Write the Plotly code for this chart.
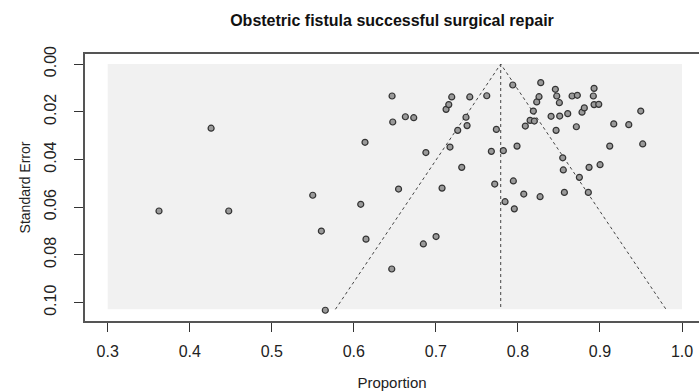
import plotly.graph_objects as go

# Study estimates
proportion = [0.3625, 0.426, 0.4475, 0.5499, 0.5604, 0.5652, 0.6084, 0.6136, 0.6148, 0.6462,
              0.6466, 0.6474, 0.6545, 0.6628, 0.673, 0.6847, 0.6878, 0.7002, 0.7075, 0.7124,
              0.7157, 0.7172, 0.7193, 0.7266, 0.7315, 0.7367, 0.738, 0.7413, 0.762, 0.7676,
              0.7717, 0.7737, 0.7822, 0.7843, 0.7937, 0.7944, 0.7956, 0.7989, 0.8071, 0.809,
              0.8148, 0.82, 0.8188, 0.8229, 0.8257, 0.8278, 0.827, 0.8404, 0.8456, 0.8465,
              0.8473, 0.8505, 0.8509, 0.8546, 0.8553, 0.8566, 0.8607, 0.866, 0.8712, 0.8724,
              0.8749, 0.8781, 0.8809, 0.8858, 0.8867, 0.8919, 0.8928, 0.8928, 0.8985, 0.9001,
              0.9119, 0.9168, 0.9351, 0.9497, 0.9521]
std_error = [0.0616, 0.0269, 0.0616, 0.055, 0.070, 0.1032, 0.0588, 0.0328, 0.0734, 0.0859,
             0.0134, 0.0243, 0.0524, 0.0221, 0.0225, 0.0754, 0.0371, 0.0723, 0.052, 0.019,
             0.017, 0.0348, 0.0138, 0.0278, 0.0433, 0.0223, 0.0258, 0.0138, 0.0133, 0.0366,
             0.0503, 0.0274, 0.0363, 0.0577, 0.0088, 0.049, 0.0607, 0.0344, 0.0545, 0.026,
             0.0236, 0.0239, 0.0197, 0.0159, 0.0137, 0.0078, 0.0556, 0.0219, 0.0106, 0.0278,
             0.0134, 0.0162, 0.0218, 0.0393, 0.0444, 0.0538, 0.0208, 0.0134, 0.0263, 0.0131,
             0.0475, 0.0202, 0.0184, 0.0538, 0.0433, 0.0134, 0.0102, 0.017, 0.0169, 0.0422,
             0.0344, 0.0251, 0.0254, 0.0197, 0.0335]

pooled = 0.779
se_max = 0.1028
z = 1.96
x_ticks = [0.3, 0.4, 0.5, 0.6, 0.7, 0.8, 0.9, 1.0]
x_tick_labels = ["0.3", "0.4", "0.5", "0.6", "0.7", "0.8", "0.9", "1.0"]
y_ticks = [0.00, 0.02, 0.04, 0.06, 0.08, 0.10]
y_tick_labels = ["0.00", "0.02", "0.04", "0.06", "0.08", "0.10"]

FONT = "Liberation Sans, Arial, sans-serif"
fig = go.Figure()

# background region
fig.add_shape(type="rect", xref="x", yref="y", x0=0.3, x1=1.0, y0=0, y1=se_max,
              fillcolor="#f1f1f1", line=dict(width=0), layer="below")

# funnel lines
fig.add_trace(go.Scatter(x=[pooled - z * se_max, pooled, pooled + z * se_max],
                         y=[se_max, 0, se_max], mode="lines",
                         line=dict(color="#444444", width=1, dash="dot"),
                         hoverinfo="skip", showlegend=False))
fig.add_trace(go.Scatter(x=[pooled, pooled], y=[0, se_max], mode="lines",
                         line=dict(color="#444444", width=1, dash="dot"),
                         hoverinfo="skip", showlegend=False))

# studies
fig.add_trace(go.Scatter(x=proportion, y=std_error, mode="markers",
                         marker=dict(size=6, color="#9a9a9a",
                                     line=dict(color="#333333", width=1.2)),
                         showlegend=False))

fig.update_layout(
    width=699, height=391,
    margin=dict(l=85, r=0, t=54, b=70),
    paper_bgcolor="white", plot_bgcolor="white",
    font=dict(family=FONT, size=15, color="#222222"),
    title=dict(text="<b>Obstetric fistula successful surgical repair</b>",
               font=dict(family=FONT, size=16, color="#111111"),
               x=0.5, xref="paper", xanchor="center",
               y=1 - 20 / 391, yref="container", yanchor="middle"),
    showlegend=False,
)
fig.update_xaxes(range=[0.2723, 1.0207], tickvals=x_ticks, ticktext=x_tick_labels,
                 automargin=False,
                 showgrid=False, zeroline=False, showline=True, mirror=True,
                 linecolor="#555555", linewidth=1.5,
                 ticks="outside", ticklen=9, tickcolor="#333333", tickwidth=1.2,
                 ticklabelstandoff=6,
                 tickfont=dict(size=16, color="#222222"),
                 title=dict(text="Proportion", font=dict(size=15, color="#222222"),
                            standoff=22))
fig.update_yaxes(range=[0.1077, -0.0042], tickvals=y_ticks, ticktext=y_tick_labels,
                 automargin=False,
                 showgrid=False, zeroline=False, showline=True, mirror=False,
                 linecolor="#555555", linewidth=1.5,
                 ticks="outside", ticklen=9, tickcolor="#333333", tickwidth=1.2,
                 tickangle=-90, ticklabelstandoff=12,
                 tickfont=dict(size=16, color="#222222"),
                 title=dict(text="Standard Error", font=dict(size=14, color="#222222"),
                            standoff=8))

# remove the browser's default 8px page margin so the figure fills the window
fig.write_html("out.html",
               config={"displayModeBar": False},
               post_script="document.body.style.margin='0';document.body.style.overflow='hidden';")
